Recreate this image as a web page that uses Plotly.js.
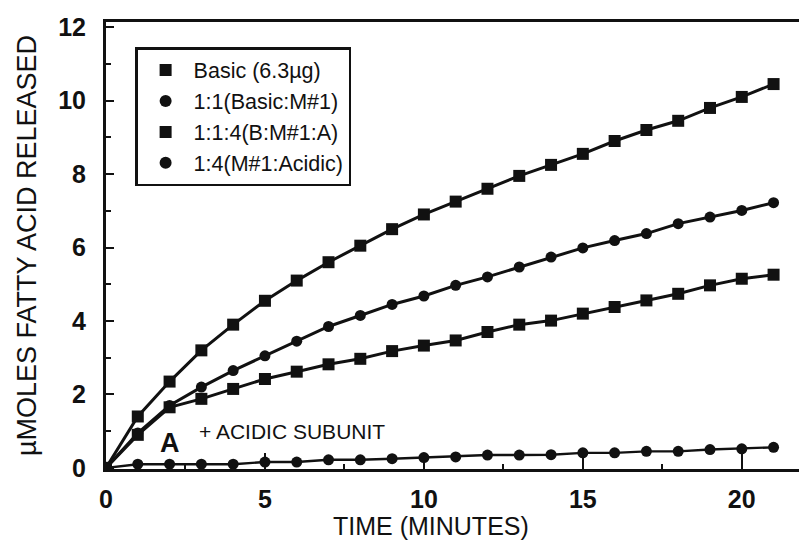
<!DOCTYPE html>
<html>
<head>
<meta charset="utf-8">
<script src="https://cdn.plot.ly/plotly-3.0.1.min.js"></script>
<style>
  html, body { margin: 0; padding: 0; background: #fff; }
  #chart { width: 799px; height: 556px; }
</style>
</head>
<body>
<div id="chart"></div>
<script>
// Time points (minutes)
const minutes = [0,1,2,3,4,5,6,7,8,9,10,11,12,13,14,15,16,17,18,19,20,21];

// µmoles fatty acid released for each enzyme preparation
const basic    = [0,1.4,2.35,3.2,3.9,4.55,5.1,5.6,6.05,6.5,6.9,7.25,7.6,7.95,8.25,8.55,8.9,9.2,9.45,9.8,10.1,10.45];
const basicM1  = [0,0.95,1.7,2.2,2.65,3.05,3.45,3.85,4.15,4.45,4.68,4.97,5.2,5.47,5.74,5.99,6.19,6.38,6.65,6.83,7.01,7.22];
const basicM1A = [0,0.9,1.65,1.88,2.15,2.42,2.62,2.82,2.97,3.18,3.33,3.47,3.7,3.9,4.01,4.2,4.38,4.56,4.74,4.97,5.15,5.26];
const m1Acidic = [0,0.1,0.1,0.1,0.1,0.16,0.16,0.22,0.22,0.25,0.28,0.3,0.35,0.35,0.36,0.41,0.41,0.45,0.45,0.5,0.52,0.56];

const seriesNames   = ['Basic (6.3µg)', '1:1(Basic:M#1)', '1:1:4(B:M#1:A)', '1:4(M#1:Acidic)'];
const seriesData    = [basic, basicM1, basicM1A, m1Acidic];
const seriesSymbols = ['square', 'circle', 'square', 'circle'];

const xTicks = [0, 5, 10, 15, 20];
const yTicks = [0, 2, 4, 6, 8, 10, 12];

const ink = '#111';
const FONT = 'Liberation Sans, Arial, Helvetica, sans-serif';
const traces = [];

// Curves with markers; the legend uses separate marker-only entries
seriesData.forEach((vals, i) => {
  traces.push({
    x: minutes, y: vals, type: 'scatter', mode: 'lines+markers',
    name: seriesNames[i], showlegend: false,
    line: {color: ink, width: i === 3 ? 2.4 : 3},
    marker: {symbol: seriesSymbols[i], size: seriesSymbols[i] === 'square' ? 12 : 11, color: ink}
  });
});

seriesNames.forEach((name, i) => {
  traces.push({
    x: [null], y: [null], type: 'scatter', mode: 'markers', name: name,
    marker: {symbol: seriesSymbols[i], size: 12, color: ink}
  });
});

const layout = {
  width: 799, height: 556,
  margin: {l: 106, r: 0, t: 22, b: 87},
  paper_bgcolor: '#fff', plot_bgcolor: '#fff',
  font: {family: FONT, color: ink},
  showlegend: true,
  legend: {
    x: 0.042, y: 0.944, xanchor: 'left', yanchor: 'top',
    bgcolor: '#fff', bordercolor: ink, borderwidth: 2.5,
    font: {size: 21.5, family: FONT, color: ink},
    tracegroupgap: 0, itemwidth: 46
  },
  xaxis: {
    range: [0, 21.8], tickvals: xTicks, ticktext: xTicks.map(String),
    ticks: 'inside', ticklen: 16, tickwidth: 2, tickcolor: ink,
    minor: {dtick: 2.5, tick0: 0, ticks: 'inside', ticklen: 5, tickwidth: 2, tickcolor: ink},
    showline: true, linewidth: 3, linecolor: ink, mirror: true,
    showgrid: false, zeroline: false,
    tickfont: {size: 25, family: FONT, weight: 'bold', color: ink},
    ticklabelstandoff: 6
  },
  yaxis: {
    range: [-0.03, 12.14], tickvals: yTicks, ticktext: yTicks.map(String),
    ticks: 'inside', ticklen: 8, tickwidth: 2, tickcolor: ink,
    minor: {dtick: 1, tick0: 0, ticks: 'inside', ticklen: 5, tickwidth: 2, tickcolor: ink},
    showline: true, linewidth: 3, linecolor: ink,
    showgrid: false, zeroline: false,
    tickfont: {size: 25, family: FONT, weight: 'bold', color: ink},
    ticklabelstandoff: 12,
    title: {text: 'µMOLES FATTY ACID RELEASED', font: {size: 27, family: FONT, color: ink}, standoff: 14}
  },
  annotations: [
    // x-axis title, set slightly left of the plot centre
    {x: 0.469, y: -0.127, xref: 'paper', yref: 'paper', text: 'TIME (MINUTES)', showarrow: false,
     xanchor: 'center', yanchor: 'middle', font: {size: 25, family: FONT, color: ink}},
    {x: 2.0, y: 0.68, xref: 'x', yref: 'y', text: 'A', showarrow: false,
     font: {size: 27, family: FONT, weight: 'bold', color: ink}},
    {x: 2.86, y: 1.0, xref: 'x', yref: 'y', text: '+ ACIDIC SUBUNIT', showarrow: false, xanchor: 'left',
     font: {size: 21, family: FONT, color: ink}}
  ]
};

Plotly.newPlot('chart', traces, layout, {displayModeBar: false, staticPlot: true});
</script>
</body>
</html>
